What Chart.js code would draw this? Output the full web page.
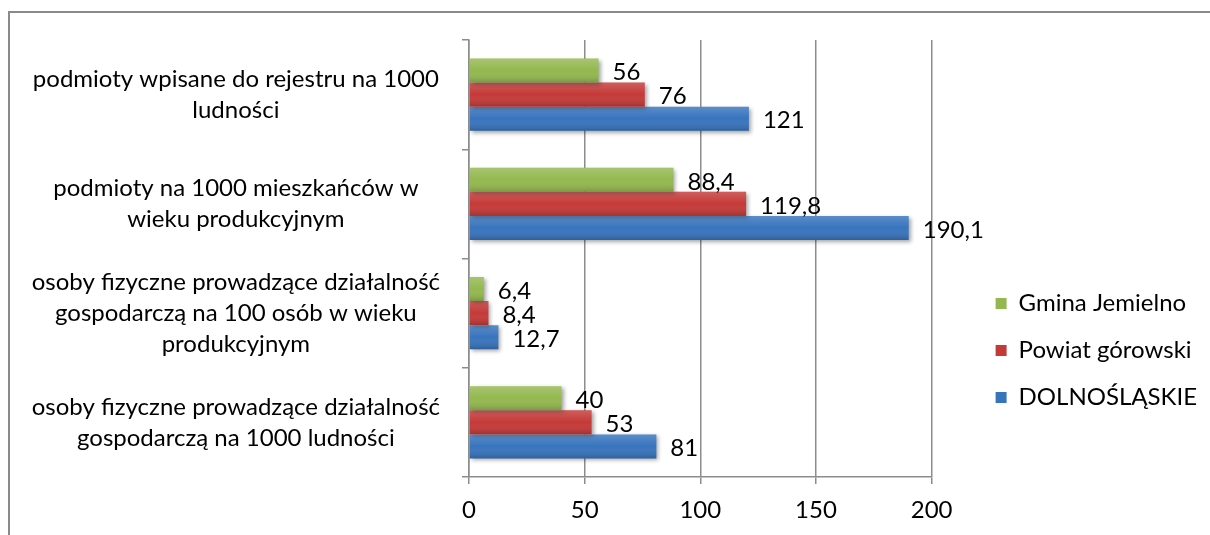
<!DOCTYPE html>
<html lang="pl">
<head>
<meta charset="utf-8">
<title>Podmioty gospodarcze</title>
<script src="https://cdn.jsdelivr.net/npm/chart.js@4/dist/chart.umd.min.js"></script>
<style>
    body { margin: 0; background: #fff; }
    .marco {
        position: absolute; left: 8px; top: 11px;
        width: 1300px; height: 700px;
        border-left: 2px solid #8a8a8a; border-top: 2px solid #8a8a8a;
    }
    #grafico { position: absolute; left: 0; top: 0; }
</style>
</head>
<body>
<div class="marco"></div>
<canvas id="grafico" width="1210" height="535"></canvas>
<script>
// Datos del gráfico
const categorias = [
    ['podmioty wpisane do rejestru na 1000', 'ludności'],
    ['podmioty na 1000 mieszkańców w', 'wieku produkcyjnym'],
    ['osoby fizyczne prowadzące działalność', 'gospodarczą na 100 osób w wieku', 'produkcyjnym'],
    ['osoby fizyczne prowadzące działalność', 'gospodarczą na 1000 ludności']
];
const nombresSeries = ['Gmina Jemielno', 'Powiat górowski', 'DOLNOŚLĄSKIE'];
const gmina = [56, 88.4, 6.4, 40];
const powiat = [76, 119.8, 8.4, 53];
const dolnoslaskie = [121, 190.1, 12.7, 81];
const ticksX = [0, 50, 100, 150, 200];

const colores = ['#94b84f', '#c43a38', '#3874bd'];
const gris = '#8c8c8c';
const fuente = { family: 'Lato', size: 24 };

// Sombra de las barras
const sombra = {
    id: 'sombra',
    beforeDatasetsDraw(chart) {
        const ctx = chart.ctx;
        ctx.save();
        ctx.shadowColor = 'rgba(0,0,0,0.35)';
        ctx.shadowBlur = 4;
        ctx.shadowOffsetX = 2;
        ctx.shadowOffsetY = 2;
    },
    afterDatasetsDraw(chart) {
        chart.ctx.restore();
    }
};

// Degradado encima de cada barra + etiquetas de valor
const brilloYEtiquetas = {
    id: 'brilloYEtiquetas',
    afterDatasetsDraw(chart) {
        const ctx = chart.ctx;
        ctx.save();
        chart.data.datasets.forEach((ds, i) => {
            const meta = chart.getDatasetMeta(i);
            meta.data.forEach((barra, j) => {
                const alto = barra.height;
                const arriba = barra.y - alto / 2;
                const g = ctx.createLinearGradient(0, arriba, 0, arriba + alto);
                g.addColorStop(0, 'rgba(255,255,255,0.18)');
                g.addColorStop(0.5, 'rgba(255,255,255,0)');
                g.addColorStop(1, 'rgba(0,0,0,0.18)');
                ctx.fillStyle = g;
                ctx.fillRect(barra.base, arriba, barra.x - barra.base, alto);

                ctx.fillStyle = '#000';
                ctx.font = fuente.size + 'px ' + fuente.family;
                ctx.textAlign = 'left';
                ctx.textBaseline = 'middle';
                ctx.fillText(String(ds.data[j]).replace('.', ','), barra.x + 14, barra.y + 2);
            });
        });
        ctx.restore();
    }
};

// Mover la leyenda a su sitio
const moverLeyenda = {
    id: 'moverLeyenda',
    afterLayout(chart) {
        const ley = chart.legend;
        ley.left += 41;
        ley.right += 41;
        ley.top += 63;
        ley.bottom += 63;
    }
};

new Chart(document.getElementById('grafico'), {
    type: 'bar',
    data: {
        labels: categorias,
        datasets: [
            { label: nombresSeries[0], data: gmina, backgroundColor: colores[0] },
            { label: nombresSeries[1], data: powiat, backgroundColor: colores[1] },
            { label: nombresSeries[2], data: dolnoslaskie, backgroundColor: colores[2] }
        ]
    },
    options: {
        indexAxis: 'y',
        responsive: false,
        animation: false,
        categoryPercentage: 0.66,
        barPercentage: 1,
        layout: { padding: { top: 40, right: 44, bottom: 0, left: 0 } },
        scales: {
            x: {
                min: 0, max: 200,
                afterBuildTicks: (eje) => { eje.ticks = ticksX.map(v => ({ value: v })); },
                afterFit: (eje) => { eje.height = 58; },
                grid: { color: gris, lineWidth: 1.5, tickLength: 7 },
                border: { color: gris, width: 1.5 },
                ticks: { color: '#000', font: fuente, padding: 12 }
            },
            y: {
                afterFit: (eje) => {
                    eje.width = 469;
                    // sin margen extra por las etiquetas de varias líneas
                    eje.paddingTop = 0;
                    eje.paddingBottom = 0;
                },
                grid: { drawOnChartArea: false, color: gris, lineWidth: 1.5, tickLength: 7, offset: true },
                border: { color: gris, width: 1.5 },
                ticks: { color: '#000', font: { ...fuente, lineHeight: 1.29 }, crossAlign: 'center', padding: 22 }
            }
        },
        plugins: {
            legend: {
                position: 'right',
                labels: { color: '#000', font: fuente, boxWidth: 11, boxHeight: 11, padding: 23 }
            },
            tooltip: { enabled: false }
        }
    },
    plugins: [sombra, brilloYEtiquetas, moverLeyenda]
});
</script>
</body>
</html>
